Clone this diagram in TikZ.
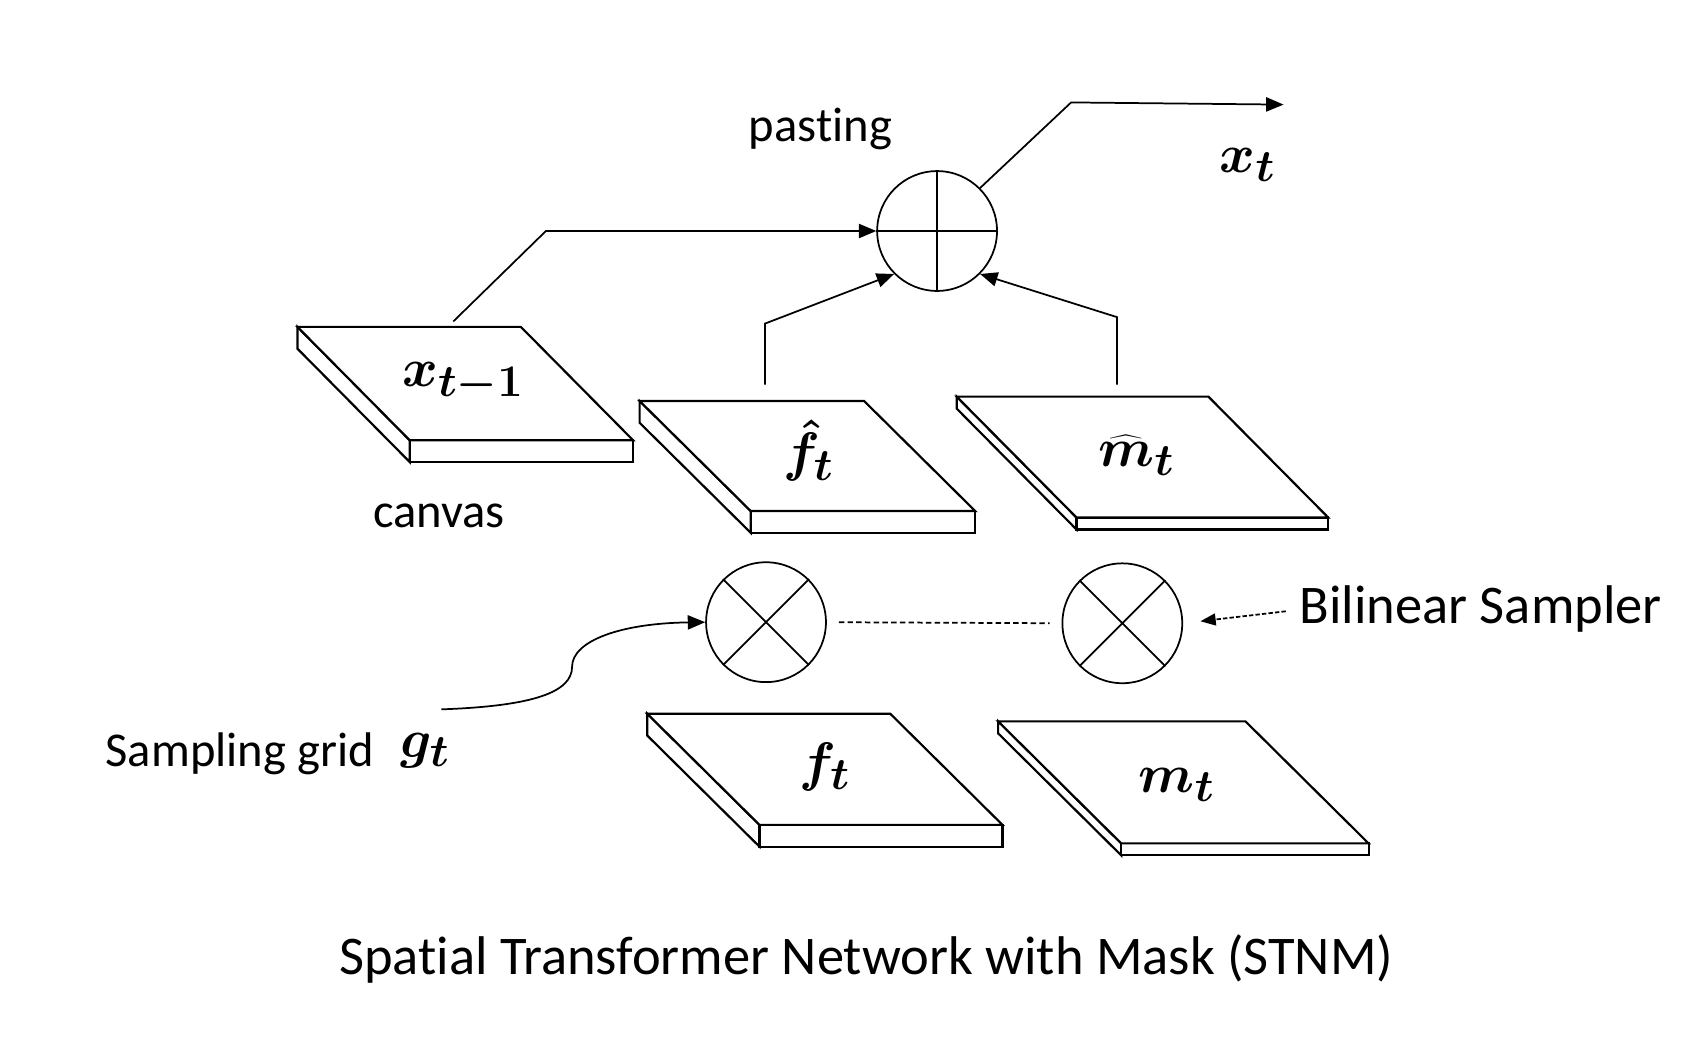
\documentclass[tikz,border=0pt]{standalone}
\usepackage[no-math]{fontspec}
\setmainfont{Carlito}[Ligatures={NoCommon,NoContextual}]
\usetikzlibrary{arrows.meta,calc}
% slab: #1 x, #2 y (top-left of top face), #3 width, #4 dx, #5 dy, #6 thickness
\newcommand\mkslab[6]{%
  \draw[slabline] (#1,#2) -- ++(#4,#5) -- ++(0,#6) -- ++(-#4,-#5) -- cycle;
  \draw[slabline] (#1,#2) ++(#4,#5) rectangle ++(#3,#6);
  \draw[slabline] (#1,#2) -- ++(#3,0) -- ++(#4,#5) -- ++(-#3,0) -- cycle;
}
\newcommand\nolig{\kern0pt }
\begin{document}
\begin{tikzpicture}[x=0.5pt,y=-0.5pt,
  slabline/.style={line width=1pt, fill=white, line join=miter},
  conn/.style={line width=0.8pt},
  arr/.style={conn,-{Triangle[length=8pt,width=6.5pt]}},
  lab/.style={font=\fontsize{22.3}{26}\selectfont, inner sep=0, anchor=base},
  big/.style={font=\fontsize{25}{30}\selectfont, inner sep=0, anchor=base},
  mlab/.style={font=\fontsize{32}{40}\selectfont\boldmath, inner sep=0, anchor=base},
  opc/.style={circle, draw, line width=0.8pt, minimum size=55pt, inner sep=0}
]
\useasboundingbox (0,0) rectangle (1562,974.7);

% slabs
\mkslab{273}{300}{205}{103}{104}{20}
\mkslab{587}{368}{206}{102}{101}{20}
\mkslab{878}{364}{231}{110}{111}{11}
\mkslab{594}{655}{223}{103}{102}{20}
\mkslab{916}{662}{227}{113}{112}{11}

% slab labels
\node[mlab] (xprev) at (425,355) {$x_{t-1}$};
\node[mlab] (fhat) at (742,432) {$\hat{f}_t$};
\node[mlab] (mhat) at (1043,428) {$\widehat{m}_t$};
\node[mlab] (ft) at (757,716) {$f_t$};
\node[mlab] (mt) at (1080,727) {$m_t$};
\node[mlab] (xt) at (1145,158) {$x_t$};
\node[mlab] (gt) at (390,695) {$g_t$};

% text labels
\node[lab] (pasting) at (753,130) {past\nolig ing};
\node[lab] (canvas) at (403,484) {canvas};
\node[lab] (sgrid) at (220,703) {Sampling grid};
\node[big] (bil) at (1359,572) {Bilinear Sampler};
\node[big] (title) at (795,894) {Spat\nolig ial Transformer Network with Mask (STNM)};

% operators
\node[opc] (pc) at (860,212) {};
\draw[conn] (pc.north) -- (pc.south) (pc.west) -- (pc.east);
\node[opc] (s1) at (703,571) {};
\draw[conn] (s1.45) -- (s1.225) (s1.135) -- (s1.-45);
\node[opc] (s2) at (1030,572) {};
\draw[conn] (s2.45) -- (s2.225) (s2.135) -- (s2.-45);

% connector anchors
\coordinate (cv) at (416,295);
\coordinate (fh) at (702,353);
\coordinate (mh) at (1025,353);
\coordinate (out) at (1178,96);
\coordinate (sg) at (405,651);
\coordinate (bs) at (1180,561);

% connectors
\draw[arr] (cv) -- (501,212) -- (pc.west);
\draw[arr] (fh) -- (702,297) -- (pc.225);
\draw[arr] (mh) -- (1025,291) -- (pc.-45);
\draw[arr] (pc.45) -- (983,94) -- (out);
\draw[conn, dash pattern=on 2.5pt off 1.5pt, shorten <=5.5pt, shorten >=5.5pt] (s1.east) -- (s2.west);
\draw[conn, dash pattern=on 2pt off 1pt, -{Triangle[length=7pt,width=5.5pt]}, shorten >=8pt] (bs) -- (s2.east);
\draw[arr] (sg) .. controls (490,648) and (525,635) .. (525,612) .. controls (525,588) and (570,572) .. (s1.west);
\end{tikzpicture}
\end{document}
